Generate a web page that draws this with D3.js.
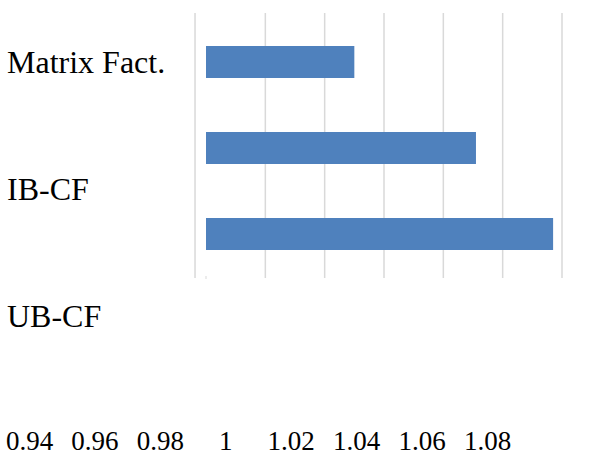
<!DOCTYPE html>
<html><head><meta charset="utf-8"><script src="https://cdn.jsdelivr.net/npm/d3@7"></script></head>
<body style="margin:0">
<svg id="chart" width="610" height="456"></svg>
<script>
// Categories, top to bottom, and their scores
const categories = ["Matrix Fact.", "IB-CF", "UB-CF"];
const values = [0.990, 1.031, 1.057];

// Axis tick labels and the gridline values
const tickLabels = ["0.94", "0.96", "0.98", "1", "1.02", "1.04", "1.06", "1.08"];
const gridValues = [0.9363, 0.96, 0.98, 1.00, 1.02, 1.04, 1.06];
const baseValue = 0.94;

const svg = d3.select("#chart");

// Value scale for the plot area
const x = d3.scaleLinear().domain([0.94, 1.06]).range([206, 562]);

// Bars band scale
const yBar = d3.scaleBand().domain(categories).range([19, 277]).paddingInner(0.628).paddingOuter(0.314);

// Category labels are spread over a taller band than the bars
const yLabel = d3.scalePoint().domain(categories).range([73, 327]);

// Tick labels along the bottom
const xLabel = d3.scalePoint().domain(tickLabels).range([29.5, 487.5]);

// Gridlines
svg.selectAll("line.grid")
  .data(gridValues)
  .join("line")
  .attr("class", "grid")
  .attr("x1", d => x(d)).attr("x2", d => x(d))
  .attr("y1", 13).attr("y2", 278)
  .attr("stroke", "#d9d9d9")
  .attr("stroke-width", 1.5);

// Small baseline mark
svg.append("line")
  .attr("x1", x(baseValue)).attr("x2", x(baseValue))
  .attr("y1", 276).attr("y2", 279)
  .attr("stroke", "#d9d9d9").attr("stroke-width", 1);

// Bars
svg.selectAll("rect.bar")
  .data(values)
  .join("rect")
  .attr("class", "bar")
  .attr("x", x(baseValue))
  .attr("y", (d, i) => yBar(categories[i]))
  .attr("width", d => x(d) - x(baseValue))
  .attr("height", yBar.bandwidth())
  .attr("fill", "#4f81bd");

// Category labels
svg.selectAll("text.cat")
  .data(categories)
  .join("text")
  .attr("class", "cat")
  .attr("x", 7)
  .attr("y", d => yLabel(d))
  .attr("font-size", 32)
  .style("font-family", `"Liberation Serif"`)
  .text(d => d);

// Tick labels
svg.selectAll("text.tick")
  .data(tickLabels)
  .join("text")
  .attr("class", "tick")
  .attr("x", d => xLabel(d))
  .attr("y", 450)
  .attr("text-anchor", "middle")
  .attr("font-size", 27)
  .style("font-family", `"Liberation Serif"`)
  .text(d => d);
</script>
</body></html>
